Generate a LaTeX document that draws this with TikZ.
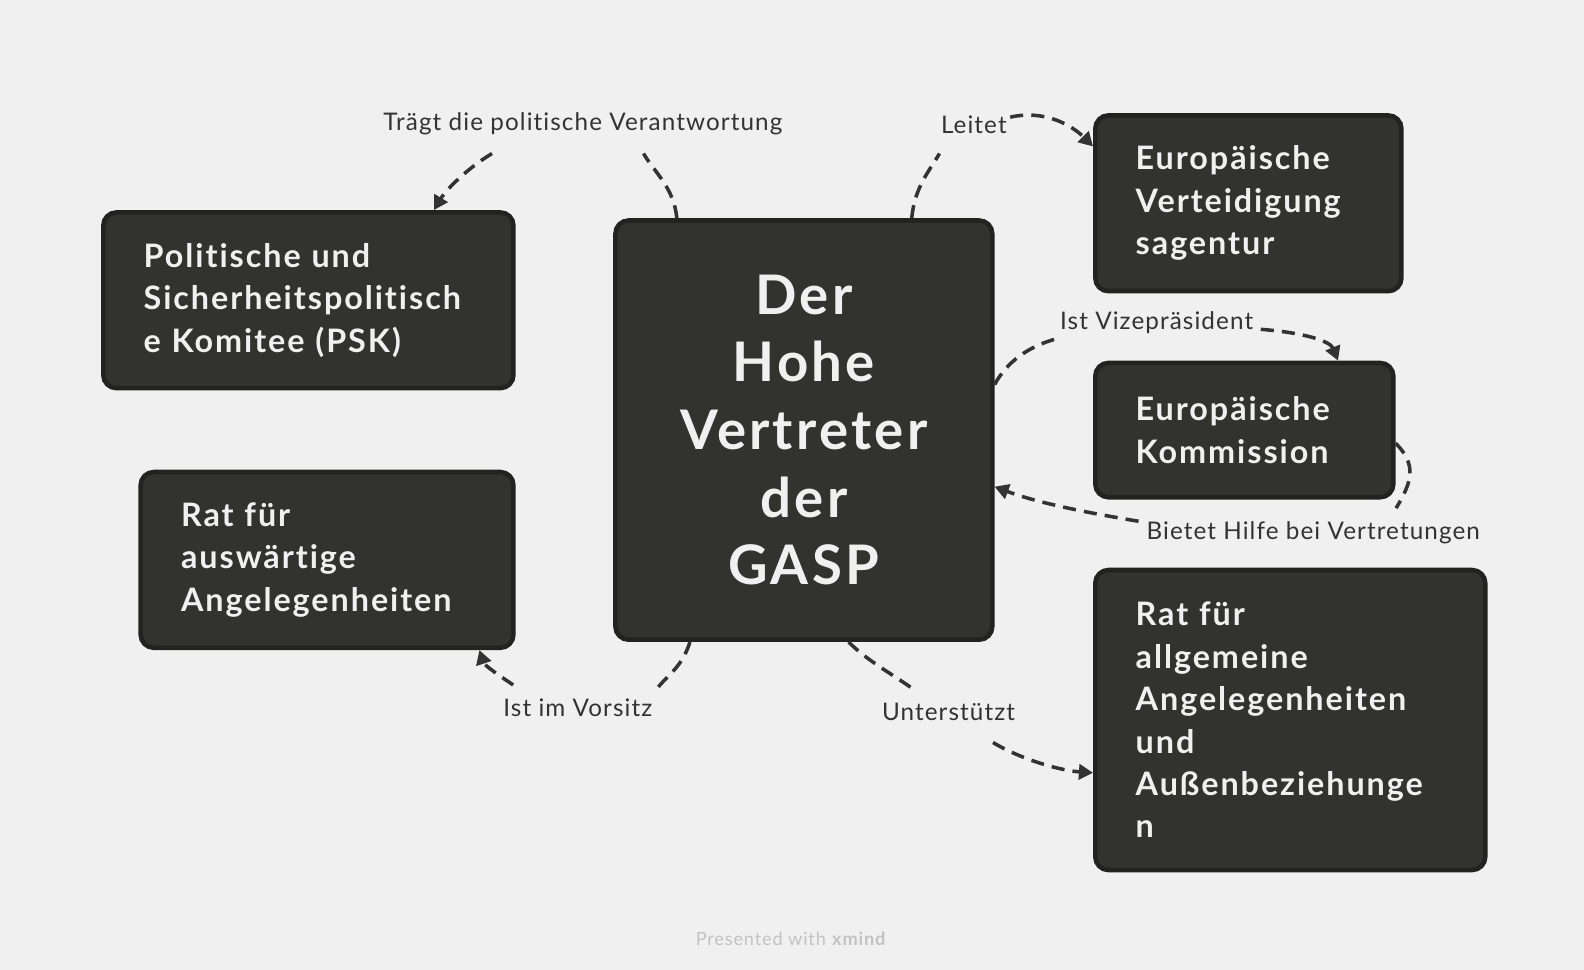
\documentclass[tikz,border=0pt]{standalone}
\usepackage{fontspec}
\setmainfont{Lato}[Ligatures=NoCommon]
\newfontfamily\topicfont{Lato}[LetterSpace=6,Ligatures=NoCommon]
\newfontfamily\labfont{Lato}[LetterSpace=4.5,Ligatures=NoCommon]
\usetikzlibrary{arrows.meta}
\definecolor{bgcol}{HTML}{F0F0F0}
\definecolor{boxcol}{HTML}{32322F}
\definecolor{rimcol}{HTML}{222220}
\definecolor{inkcol}{HTML}{333333}
\definecolor{wmcol}{HTML}{C2C2C2}
\tikzset{
  topic/.style={draw=rimcol,line width=4.5pt,fill=boxcol,rounded corners=13pt,
    text=white!94!black,font=\topicfont\bfseries\fontsize{32}{42}\selectfont,align=left,
    inner xsep=40pt,inner ysep=0pt,anchor=north west},
  hub/.style={topic,font=\topicfont\bfseries\fontsize{54}{67}\selectfont,align=center},
  lab/.style={text=inkcol,font=\labfont\fontsize{24}{28}\selectfont,inner sep=0pt},
  link/.style={draw=inkcol,line width=3.5pt,dash pattern=on 13pt off 8pt},
  arrowlink/.style={link,-{Triangle[length=14pt,width=15pt]}}
}
\begin{document}
\begin{tikzpicture}[x=1pt,y=-1pt]
\fill[bgcol] (0,0) rectangle (1568,960);
\useasboundingbox (0,0) rectangle (1568,960);

\node[hub,text width=293pt,minimum height=415pt] (hv) at (607,216) {Der\\Hohe\\Vertreter\\der\\GASP};
\node[topic,text width=326pt,minimum height=174pt] (psk) at (100,208) {Politische und\\Sicherheitspolitisch\\e Komitee (PSK)};
\node[topic,text width=289pt,minimum height=174pt] (rfa) at (137,465) {Rat für\\auswärtige\\Angelegenheiten};
\node[topic,text width=223pt,minimum height=174pt] (eva) at (1082,112) {Europäische\\Verteidigung\\sagentur};
\node[topic,text width=215pt,minimum height=133pt] (ek) at (1082,357) {Europäische\\Kommission};
\node[topic,text width=306pt,minimum height=297pt] (rfaa) at (1082,562) {Rat für\\allgemeine\\Angelegenheiten\\und\\Außenbeziehunge\\n};

\node[lab] (l1) at (577,123) {Trägt die politische Verantwortung};
\node[lab] (l2) at (964,123) {Leitet};
\node[lab] (l3) at (1145,319) {Ist Vizepräsident};
\node[lab] (l4) at (1300,527) {Bietet Hilfe bei Vertretungen};
\node[lab] (l5) at (572,701) {Ist im Vorsitz};
\node[lab] (l6) at (939,705) {Unterstützt};

\coordinate (l1a) at (637,152);
\coordinate (l1b) at (487,152);
\coordinate (l2a) at (930,152);
\coordinate (l2b) at (1000,116);
\coordinate (l3a) at (1047,335);
\coordinate (l3b) at (1248,326);
\coordinate (l4a) at (1382,503);
\coordinate (l4b) at (1127,516);
\coordinate (l5a) at (650,682);
\coordinate (l5b) at (508,678);
\coordinate (l6a) at (905,683);
\coordinate (l6b) at (983,735);

\draw[link] ([xshift=63pt]hv.north west) .. controls +(-3,-30) and +(12,20) .. (l1a);
\draw[arrowlink] (l1b) .. controls +(-25,15) and +(12,-20) .. ([xshift=-81pt]psk.north east);

\draw[link] ([xshift=-82pt]hv.north east) .. controls +(3,-30) and +(-12,20) .. (l2a);
\draw[arrowlink] (l2b) .. controls +(35,-8) and +(-20,-20) .. ([yshift=-33pt]eva.north west);

\draw[link] ([yshift=45pt]hv.east) .. controls +(12,-22) and +(-30,8) .. (l3a);
\draw[arrowlink] (l3b) .. controls +(40,3) and +(-8,-20) .. ([xshift=-57pt]ek.north east);

\draw[link] ([yshift=-13pt]ek.east) .. controls +(22,22) and +(15,-25) .. (l4a);
\draw[arrowlink] (l4b) .. controls +(-60,-10) and +(40,15) .. ([yshift=-56pt]hv.east);

\draw[link] ([xshift=76pt]hv.south west) .. controls +(-8,25) and +(12,-15) .. (l5a);
\draw[arrowlink] (l5b) .. controls +(-15,-10) and +(5,15) .. ([xshift=-36pt]rfa.south east);

\draw[link] ([xshift=233pt]hv.south west) .. controls +(20,20) and +(-20,-15) .. (l6a);
\draw[arrowlink] (l6b) .. controls +(30,18) and +(-30,-2) .. ([yshift=-203pt]rfaa.north west);

\node[text=wmcol,font=\labfont\fontsize{18}{20}\selectfont,inner sep=0pt] (wm) at (783,929) {Presented with \textbf{xmind}};
\end{tikzpicture}
\end{document}
